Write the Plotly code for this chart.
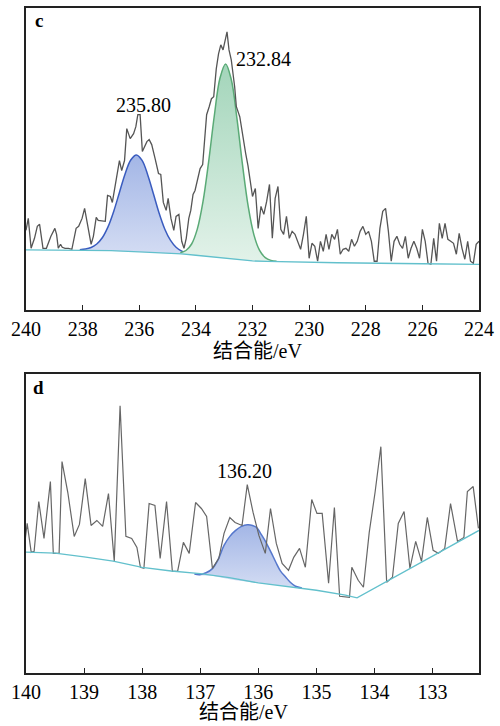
import plotly.graph_objects as go

# ---------------- panel c ----------------
c_energy = [240.00, 239.92, 239.82, 239.70, 239.60, 239.52, 239.40, 239.28, 239.12, 238.98,
            238.92, 238.86, 238.78, 238.72, 238.62, 238.50, 238.38, 238.23, 238.14, 238.02,
            237.93, 237.82, 237.70, 237.62, 237.52, 237.45, 237.30, 237.20, 237.12, 237.02,
            236.95, 236.88,
            236.79, 236.70, 236.62, 236.52, 236.44, 236.32, 236.20, 236.12, 236.05, 235.97,
            235.89, 235.80, 235.73, 235.65, 235.56, 235.44, 235.32, 235.24, 235.15, 235.05,
            234.98, 234.88, 234.78, 234.70, 234.60, 234.50, 234.42, 234.34, 234.25, 234.18,
            234.10, 234.03, 233.94, 233.85, 233.76, 233.70, 233.62, 233.53, 233.45, 233.37,
            233.28, 233.20, 233.12, 233.04, 232.96, 232.90, 232.83, 232.75, 232.63, 232.57,
            232.45, 232.36, 232.30, 232.24, 232.16,
            232.0, 231.9, 231.8, 231.7, 231.6, 231.5, 231.4, 231.3, 231.2, 231.1,
            231.0, 230.9, 230.8, 230.7, 230.6, 230.5, 230.4, 230.3, 230.2, 230.1,
            230.0, 229.9, 229.8, 229.7, 229.6, 229.5, 229.4, 229.3, 229.2, 229.1,
            229.0, 228.9, 228.8, 228.7, 228.6, 228.5, 228.4, 228.3, 228.2, 228.1,
            228.0, 227.9, 227.8, 227.7, 227.6, 227.5, 227.4, 227.3, 227.2, 227.1,
            227.0, 226.9, 226.8, 226.7, 226.6, 226.5, 226.4, 226.3, 226.2, 226.1,
            226.0, 225.9, 225.8, 225.7, 225.6, 225.5, 225.4, 225.3, 225.2, 225.1,
            225.0, 224.9, 224.8, 224.7, 224.6, 224.5, 224.4, 224.3, 224.2, 224.1,
            224.0]
c_counts = [80, 92, 62, 72, 84, 86, 62, 62, 74, 82,
            76, 62, 66, 63, 62, 62, 61, 82, 84, 92,
            102, 86, 66, 74, 93, 90, 89, 89, 115, 114,
            108, 120,
            136, 150, 140, 150, 182, 172, 177, 184, 196, 196,
            159, 165, 169, 171, 166, 152, 137, 136, 108, 100,
            112, 92, 80, 94, 96, 69, 62, 72, 92, 100,
            116, 120, 130, 142, 146, 166, 196, 204, 212, 214,
            242, 257, 266, 261, 272, 279, 261, 251, 224, 204,
            194, 177, 169, 157, 145,
            114, 122, 82, 104, 96, 109, 126, 72, 112, 124,
            81, 76, 94, 72, 79, 76, 69, 61, 76, 94,
            52, 67, 64, 49, 69, 59, 76, 61, 76, 71,
            81, 56, 61, 62, 59, 71, 64, 69, 79, 84,
            76, 79, 69, 49, 49, 82, 99, 102, 79, 49,
            69, 74, 66, 62, 74, 52, 62, 69, 62, 52,
            81, 69, 47, 46, 72, 49, 87, 72, 87, 71,
            69, 67, 56, 77, 62, 51, 69, 49, 47, 66,
            69]

c_bg_energy = [240.0, 238.0, 237.0, 236.0, 235.0, 234.5, 234.0, 233.5, 233.0, 232.5,
               232.0, 231.5, 231.0, 229.0, 226.0, 224.0]
c_bg_counts = [60.5, 60.2, 59.6, 58.5, 57.3, 56.3, 55.0, 53.6, 52.0, 50.5,
               49.3, 48.8, 48.5, 47.5, 46.5, 45.8]

c_p1_energy = [238.1, 237.9, 237.7, 237.5, 237.3, 237.1, 236.9, 236.7, 236.5, 236.3,
               236.1, 235.9, 235.7, 235.5, 235.3, 235.1, 234.9, 234.7, 234.5, 234.3]
c_p1_base = [60.2, 60.1, 60.0, 59.9, 59.7, 59.5, 59.3, 59.1, 58.9, 58.7,
             58.6, 58.3, 58.0, 57.8, 57.5, 57.2, 57.0, 56.6, 56.3, 55.8]
c_p1_fit = [60.6, 61.2, 62.8, 66.3, 72.8, 83.7, 99.2, 118.0, 136.5, 150.5,
            155.6, 150.1, 135.6, 116.7, 97.4, 81.4, 70.1, 63.0, 59.1, 56.9]

c_p2_energy = [234.55, 234.35, 234.15, 233.95, 233.75, 233.55, 233.35, 233.15, 232.95, 232.75,
               232.55, 232.35, 232.15, 231.95, 231.75, 231.55, 231.35, 231.15]
c_p2_base = [56.4, 55.9, 55.4, 54.9, 54.3, 53.7, 53.1, 52.5, 51.9, 51.3,
             50.7, 50.1, 49.5, 49.2, 49.0, 48.8, 48.7, 48.6]
c_p2_fit = [57.6, 59.8, 66.3, 81.2, 108.5, 148.7, 194.7, 232.5, 246.9, 231.3,
            192.3, 145.1, 103.7, 75.5, 59.9, 52.7, 49.9, 48.9]

c_ticks = [240, 238, 236, 234, 232, 230, 228, 226, 224]
c_labels = [("235.80", 235.85, 206), ("232.84", 231.60, 252)]

# ---------------- panel d ----------------
d_energy = [140.04, 139.98, 139.91, 139.86, 139.78, 139.69, 139.58, 139.53, 139.43, 139.38,
            139.28, 139.17, 139.08, 138.98, 138.88, 138.78, 138.68, 138.58, 138.48, 138.38,
            138.28, 138.18, 138.09, 138.03, 137.97, 137.88, 137.78, 137.69, 137.58, 137.48,
            137.39, 137.29, 137.19, 137.08, 136.98, 136.89, 136.79, 136.68, 136.59, 136.49,
            136.40, 136.28, 136.19, 136.09, 135.99, 135.88, 135.79, 135.69, 135.59, 135.48,
            135.39, 135.29, 135.19, 135.08, 134.99, 134.90, 134.79, 134.69, 134.60, 134.43,
            134.39, 134.28, 134.19, 134.09, 133.99, 133.89, 133.79, 133.69, 133.59, 133.49,
            133.39, 133.29, 133.19, 133.09, 132.99, 132.90, 132.79, 132.69, 132.57, 132.46,
            132.40, 132.30, 132.21]
d_counts = [121, 150, 121, 122, 172, 135, 192, 120, 120, 212,
            181, 137, 149, 195, 148, 153, 147, 180, 112, 268,
            137, 135, 126, 106, 105, 170, 168, 115, 172, 102,
            102, 131, 120, 171, 165, 157, 105, 115, 140, 156,
            151, 148, 189, 161, 138, 120, 165, 130, 110, 103,
            116, 125, 106, 174, 160, 160, 90, 166, 77, 76,
            106, 93, 86, 141, 181, 227, 91, 96, 150, 162,
            105, 132, 112, 156, 123, 120, 125, 170, 132, 136,
            182, 187, 145]

d_bg_energy = [140.04, 139.5, 139.0, 138.5, 138.0, 137.5, 137.0, 136.5, 136.0, 135.5,
               135.0, 134.5, 134.3, 132.2]
d_bg_counts = [121.3, 120.3, 116.5, 112.3, 106.0, 102.3, 99.7, 95.7, 90.3, 87.0,
               83.0, 78.0, 75.3, 143.0]

d_p1_energy = [137.10, 137.01, 136.90, 136.79, 136.69, 136.59, 136.49, 136.39, 136.29, 136.19,
               136.10, 136.02, 135.95, 135.87, 135.78, 135.70, 135.62, 135.53, 135.45, 135.36,
               135.25]
d_p1_base = [99.0, 98.0, 97.8, 97.6, 96.3, 94.8, 94.0, 93.0, 92.2, 91.5,
             90.8, 90.5, 90.0, 89.5, 88.8, 88.3, 87.8, 87.2, 86.5, 85.8,
             85.0]
d_p1_fit = [99.2, 98.6, 100.5, 104.7, 114.0, 128.0, 137.0, 143.0, 147.0, 148.7,
            148.0, 145.3, 139.0, 131.3, 121.0, 111.3, 102.5, 96.3, 91.0, 87.0,
            85.3]

d_ticks = [140, 139, 138, 137, 136, 135, 134, 133]
d_labels = [("136.20", 136.23, 203)]

x_title = "结合能/eV"

# ---------------- styles ----------------
SERIF = "Liberation Serif"
RAW_C = "#555555"
BG_C = "#62c0cc"
BLUE_L = "#3a5cbf"
GREEN_L = "#5aaa76"
BLUE_GRAD = [[0, "#d3dcf3"], [1, "#a3b6e6"]]
GREEN_GRAD = [[0, "#e2f2e9"], [1, "#a3d5ba"]]

fig = go.Figure()


def add_peak(xa, ya, ex, base, fit, line_c, grad):
    fig.add_trace(go.Scatter(x=ex, y=base, xaxis=xa, yaxis=ya, mode="lines",
                             line=dict(width=0, color="rgba(0,0,0,0)"),
                             showlegend=False, hoverinfo="skip"))
    fig.add_trace(go.Scatter(x=ex, y=fit, xaxis=xa, yaxis=ya, mode="lines",
                             line=dict(width=1.5, color=line_c, shape="spline"),
                             fill="tonexty",
                             fillgradient=dict(type="vertical", colorscale=grad),
                             showlegend=False, hoverinfo="skip"))


# panel c
add_peak("x", "y", c_p1_energy, c_p1_base, c_p1_fit, BLUE_L, BLUE_GRAD)
add_peak("x", "y", c_p2_energy, c_p2_base, c_p2_fit, GREEN_L, GREEN_GRAD)
fig.add_trace(go.Scatter(x=c_energy, y=c_counts, xaxis="x", yaxis="y", mode="lines",
                         line=dict(width=1.3, color=RAW_C), showlegend=False))
fig.add_trace(go.Scatter(x=c_bg_energy, y=c_bg_counts, xaxis="x", yaxis="y", mode="lines",
                         line=dict(width=1.3, color=BG_C), showlegend=False))

# panel d
add_peak("x2", "y2", d_p1_energy, d_p1_base, d_p1_fit, "#5577cc", BLUE_GRAD)
fig.add_trace(go.Scatter(x=d_energy, y=d_counts, xaxis="x2", yaxis="y2", mode="lines",
                         line=dict(width=1.2, color="#666666"), showlegend=False))
fig.add_trace(go.Scatter(x=d_bg_energy, y=d_bg_counts, xaxis="x2", yaxis="y2", mode="lines",
                         line=dict(width=1.3, color=BG_C), showlegend=False))

axis_common = dict(showline=True, mirror=True, linecolor="#222222", linewidth=1.5,
                   showgrid=False, zeroline=False)
xcommon = dict(axis_common, ticks="inside", ticklen=5, tickwidth=1.2, tickcolor="#222222",
               tickfont=dict(family=SERIF, size=20, color="black"))
ycommon = dict(axis_common, showticklabels=False, ticks="")

fig.update_layout(
    width=500, height=726,
    margin=dict(l=26, r=18, t=6, b=53),
    paper_bgcolor="white", plot_bgcolor="white",
    showlegend=False,
    font=dict(family=SERIF, color="black"),
    xaxis=dict(xcommon, domain=[0, 1], anchor="y", range=[240, 224], tickvals=c_ticks),
    yaxis=dict(ycommon, domain=[0.5457, 1], anchor="x", range=[0, 303]),
    xaxis2=dict(xcommon, domain=[0, 1], anchor="y2", range=[140, 132.2], tickvals=d_ticks),
    yaxis2=dict(ycommon, domain=[0, 0.4498], anchor="x2", range=[0, 300]),
)

TXT = dict(showarrow=False, xanchor="center", yanchor="middle")
ann = []
for txt, ex, ey in c_labels:
    ann.append(dict(TXT, text=txt, x=ex, y=ey, xref="x", yref="y",
                    font=dict(family=SERIF, size=20, color="black")))
for txt, ex, ey in d_labels:
    ann.append(dict(TXT, text=txt, x=ex, y=ey, xref="x2", yref="y2",
                    font=dict(family=SERIF, size=20, color="black")))
ann.append(dict(TXT, text="<b>c</b>", x=0.0285, y=0.96, xref="x domain", yref="y domain",
                font=dict(family=SERIF, size=19, color="black")))
ann.append(dict(TXT, text="<b>d</b>", x=0.0285, y=0.953, xref="x2 domain", yref="y2 domain",
                font=dict(family=SERIF, size=19, color="black")))
ann.append(dict(TXT, text=x_title, x=0.51, y=-0.137, xref="x domain", yref="y domain",
                font=dict(family="Liberation Serif, Noto Sans CJK SC", size=20, color="black")))
ann.append(dict(TXT, text=x_title, x=0.48, y=-0.13, xref="x2 domain", yref="y2 domain",
                font=dict(family="Liberation Serif, Noto Sans CJK SC", size=20, color="black")))
fig.update_layout(annotations=ann)

fig.write_html("out.html")
